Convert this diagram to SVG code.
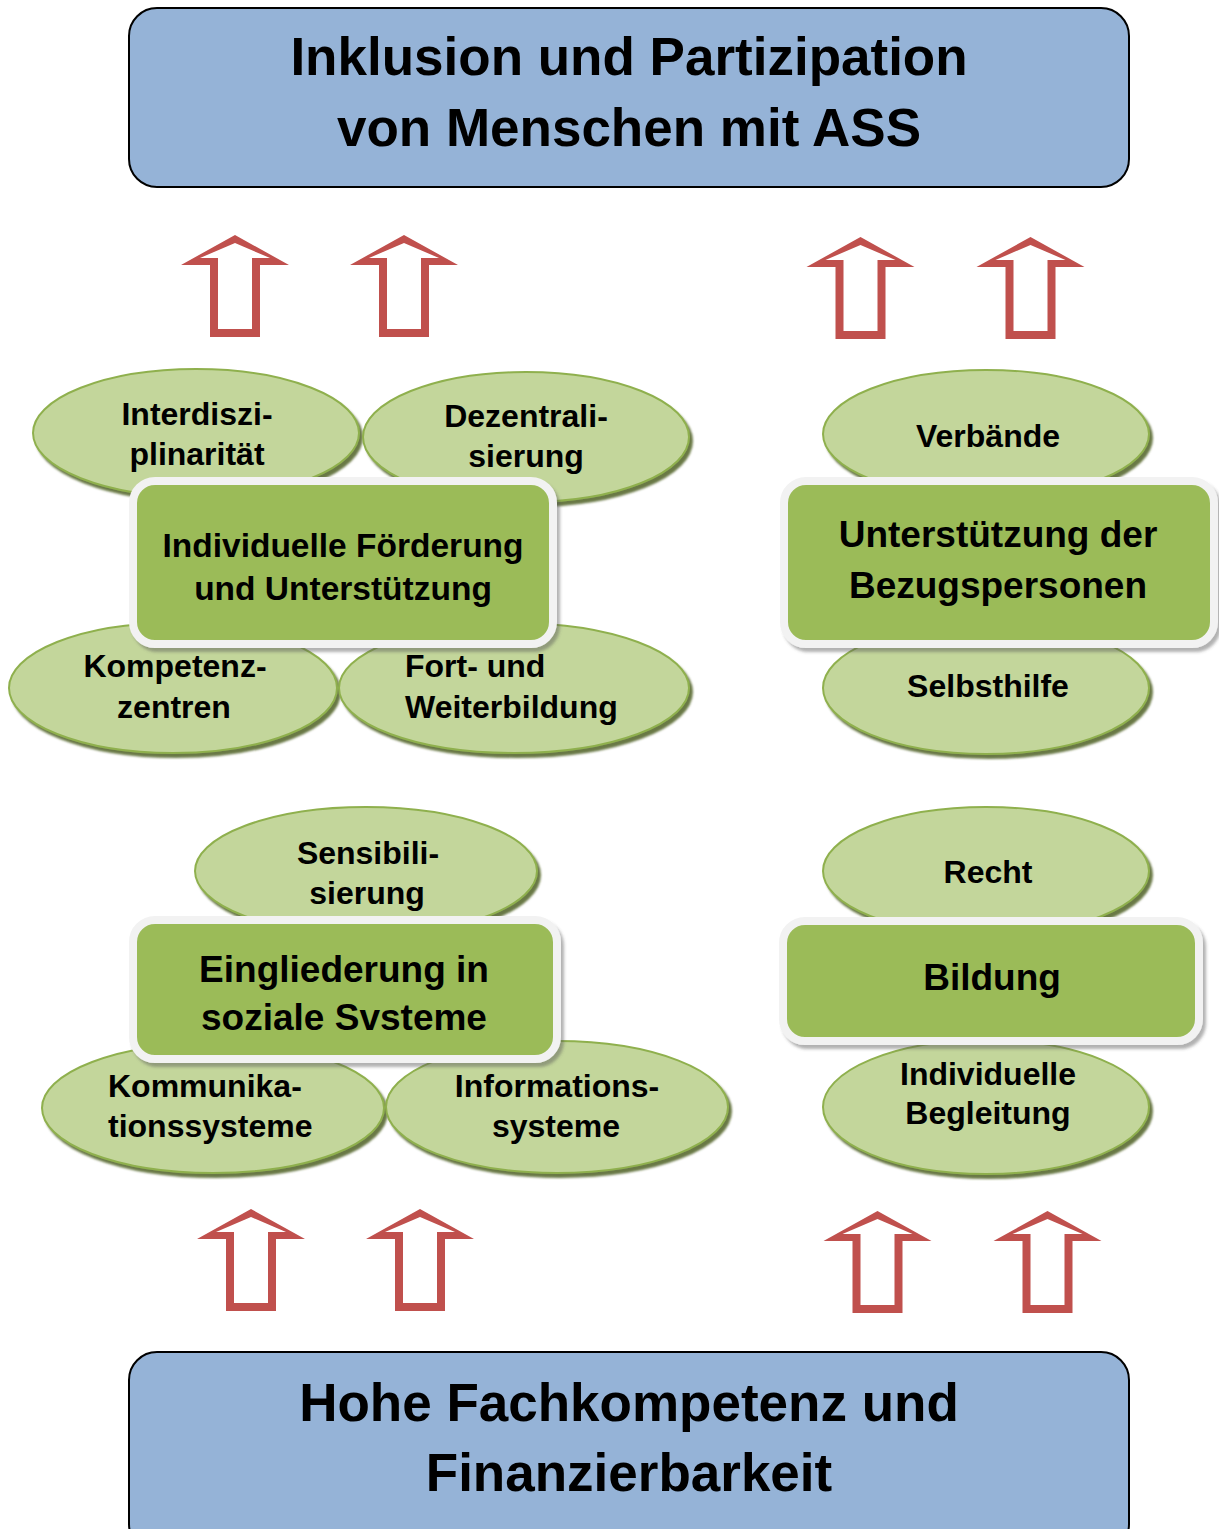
<svg xmlns="http://www.w3.org/2000/svg" xmlns:xlink="http://www.w3.org/1999/xlink" width="1219" height="1529" viewBox="0 0 1219 1529">
<style>
text{font-family:"Liberation Sans",Arial,sans-serif;font-weight:bold;fill:#000;text-anchor:middle}
.big{font-size:53px}
.box{font-size:37px}
.lbl{font-size:32px}
.st{text-anchor:start}
.main{fill:#95B3D7;stroke:#000;stroke-width:2}
.ell{fill:#C3D69B;stroke:#8FB04E;stroke-width:2;filter:url(#es)}
.gbox{fill:#9BBB59;stroke:#F2F2F2;stroke-width:8;filter:url(#bs)}
.arr{fill:#C0504D;fill-rule:evenodd;stroke:none}
</style>
<defs>
<filter id="es" x="-10%" y="-10%" width="125%" height="130%">
<feDropShadow dx="3" dy="4" stdDeviation="1" flood-color="#4F6228" flood-opacity="0.85"/>
</filter>
<filter id="bs" x="-10%" y="-10%" width="125%" height="130%">
<feDropShadow dx="3" dy="4" stdDeviation="1.5" flood-color="#555" flood-opacity="0.45"/>
</filter>
<path id="arrow" d="M0,0 L54,30 L25,30 L25,102 L-25,102 L-25,30 L-54,30 Z M0,8 L-35,23 L-17,23 L-17,94 L17,94 L17,23 L35,23 Z"/>
</defs>
<rect width="1219" height="1529" fill="#fff"/>

<g id="connectors">
<use xlink:href="#arrow" class="arr" transform="translate(235,235)"/>
<use xlink:href="#arrow" class="arr" transform="translate(404,235)"/>
<use xlink:href="#arrow" class="arr" transform="translate(860.5,237)"/>
<use xlink:href="#arrow" class="arr" transform="translate(1030.5,237)"/>
<use xlink:href="#arrow" class="arr" transform="translate(251,1209)"/>
<use xlink:href="#arrow" class="arr" transform="translate(420,1209)"/>
<use xlink:href="#arrow" class="arr" transform="translate(877.5,1211)"/>
<use xlink:href="#arrow" class="arr" transform="translate(1047.5,1211)"/>
</g>

<g id="top">
<rect class="main" x="129" y="8" width="1000" height="179" rx="28"/>
<text class="big" x="629" y="75">Inklusion und Partizipation</text>
<text class="big" x="629" y="146">von Menschen mit ASS</text>
</g>

<g id="bottom">
<rect class="main" x="129" y="1352" width="1000" height="200" rx="28"/>
<text class="big" x="629" y="1421">Hohe Fachkompetenz und</text>
<text class="big" x="629" y="1491">Finanzierbarkeit</text>
</g>

<g id="interdisziplinaritaet">
<ellipse class="ell" cx="196" cy="433" rx="163" ry="64"/>
<text class="lbl" x="197" y="425">Interdiszi-</text>
<text class="lbl" x="197" y="465">plinarität</text>
</g>
<g id="dezentralisierung">
<ellipse class="ell" cx="526" cy="437" rx="163" ry="65"/>
<text class="lbl" x="526" y="427">Dezentrali-</text>
<text class="lbl" x="526" y="467">sierung</text>
</g>
<g id="kompetenzzentren">
<ellipse class="ell" cx="173" cy="688" rx="164" ry="65"/>
<text class="lbl" x="175" y="677">Kompetenz-</text>
<text class="lbl" x="174" y="718">zentren</text>
</g>
<g id="fortbildung">
<ellipse class="ell" cx="514" cy="688" rx="175" ry="65"/>
<text class="lbl st" x="405" y="677">Fort- und</text>
<text class="lbl st" x="405" y="718">Weiterbildung</text>
</g>
<g id="foerderung">
<rect class="gbox" x="133" y="481" width="420" height="163" rx="22"/>
<text x="343" y="557" style="font-size:33.5px">Individuelle Förderung</text>
<text x="343" y="600" style="font-size:33.5px">und Unterstützung</text>
</g>

<g id="verbaende">
<ellipse class="ell" cx="986" cy="434" rx="163" ry="64"/>
<text class="lbl" x="988" y="447">Verbände</text>
</g>
<g id="selbsthilfe">
<ellipse class="ell" cx="986" cy="688" rx="163" ry="66"/>
<text class="lbl" x="988" y="697">Selbsthilfe</text>
</g>
<g id="bezugspersonen">
<rect class="gbox" x="784" y="481" width="430" height="163" rx="22"/>
<text class="box" x="998" y="547">Unterstützung der</text>
<text class="box" x="998" y="598">Bezugspersonen</text>
</g>

<g id="sensibilisierung">
<ellipse class="ell" cx="366" cy="871" rx="171" ry="64"/>
<text class="lbl" x="368" y="864">Sensibili-</text>
<text class="lbl" x="367" y="904">sierung</text>
</g>
<g id="kommunikationssysteme">
<ellipse class="ell" cx="213" cy="1108" rx="171" ry="65"/>
<text class="lbl st" x="108" y="1097">Kommunika-</text>
<text class="lbl st" x="108" y="1137">tionssysteme</text>
</g>
<g id="informationssysteme">
<ellipse class="ell" cx="557" cy="1107" rx="171" ry="66"/>
<text class="lbl" x="557" y="1097">Informations-</text>
<text class="lbl" x="556" y="1137">systeme</text>
</g>
<g id="eingliederung">
<rect class="gbox" x="133" y="920" width="424" height="139" rx="22"/>
<text class="box" x="344" y="982">Eingliederung in</text>
<text class="box" x="344" y="1030">soziale Svsteme</text>
</g>

<g id="recht">
<ellipse class="ell" cx="986" cy="871" rx="163" ry="64"/>
<text class="lbl" x="988" y="883">Recht</text>
</g>
<g id="begleitung">
<ellipse class="ell" cx="986" cy="1107" rx="163" ry="67"/>
<text class="lbl" x="988" y="1085">Individuelle</text>
<text class="lbl" x="988" y="1124">Begleitung</text>
</g>
<g id="bildung">
<rect class="gbox" x="783" y="921" width="416" height="120" rx="22"/>
<text class="box" x="992" y="990">Bildung</text>
</g>
</svg>
